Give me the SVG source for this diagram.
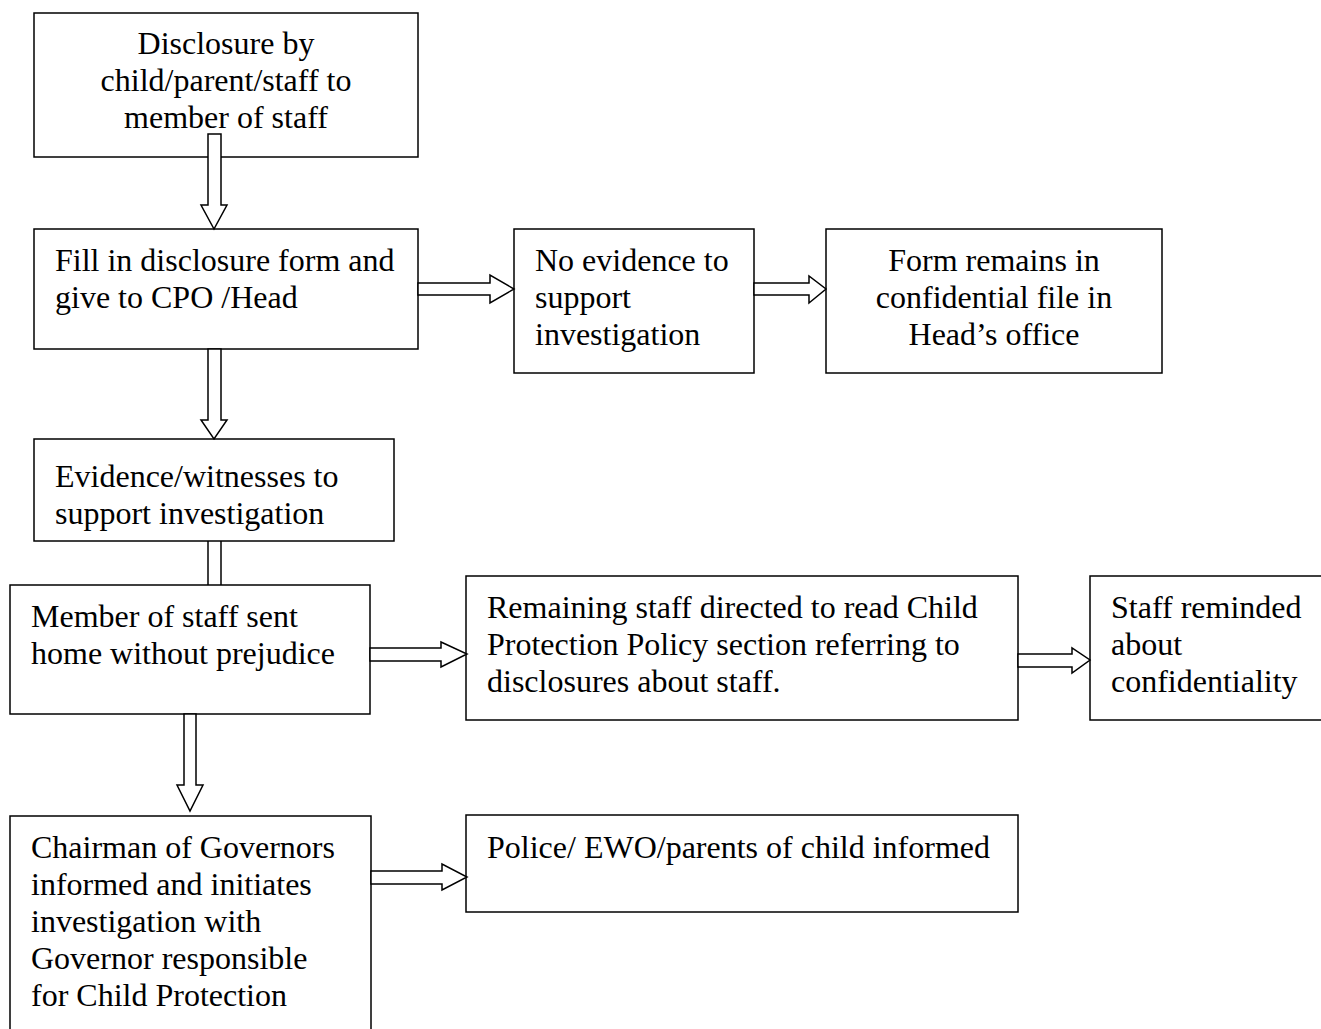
<svg xmlns="http://www.w3.org/2000/svg" width="1321" height="1029" viewBox="0 0 1321 1029">
<style>
.box{fill:#fff;stroke:#000;stroke-width:1.5}
.arr{fill:#fff;stroke:#000;stroke-width:1.5;stroke-linejoin:miter}
.t{font-family:"Liberation Serif","Times New Roman",serif;font-size:32px;fill:#000}
.c{text-anchor:middle}
</style>
<rect width="1321" height="1029" fill="#fff"/>
<g id="n1"><rect class="box" x="34" y="13" width="384" height="144"/>
<text class="t c" x="226" y="54">Disclosure by</text>
<text class="t c" x="226" y="91">child/parent/staff to</text>
<text class="t c" x="226" y="128">member of staff</text></g>
<g id="n2"><rect class="box" x="34" y="229" width="384" height="120"/>
<text class="t" x="55" y="271">Fill in disclosure form and</text>
<text class="t" x="55" y="308">give to CPO /Head</text></g>
<g id="n3"><rect class="box" x="514" y="229" width="240" height="144"/>
<text class="t" x="535" y="271">No evidence to</text>
<text class="t" x="535" y="308">support</text>
<text class="t" x="535" y="345">investigation</text></g>
<g id="n4"><rect class="box" x="826" y="229" width="336" height="144"/>
<text class="t c" x="994" y="271">Form remains in</text>
<text class="t c" x="994" y="308">confidential file in</text>
<text class="t c" x="994" y="345">Head’s office</text></g>
<g id="n5"><rect class="box" x="34" y="439" width="360" height="102"/>
<text class="t" x="55" y="487">Evidence/witnesses to</text>
<text class="t" x="55" y="524">support investigation</text></g>
<g id="n6"><rect class="box" x="10" y="585" width="360" height="129"/>
<text class="t" x="31" y="627">Member of staff sent</text>
<text class="t" x="31" y="664">home without prejudice</text></g>
<g id="n7"><rect class="box" x="466" y="576" width="552" height="144"/>
<text class="t" x="487" y="618">Remaining staff directed to read Child</text>
<text class="t" x="487" y="655">Protection Policy section referring to</text>
<text class="t" x="487" y="692">disclosures about staff.</text></g>
<g id="n8"><rect class="box" x="1090" y="576" width="260" height="144"/>
<text class="t" x="1111" y="618">Staff reminded</text>
<text class="t" x="1111" y="655">about</text>
<text class="t" x="1111" y="692">confidentiality</text></g>
<g id="n9"><rect class="box" x="10" y="816" width="361" height="240"/>
<text class="t" x="31" y="858">Chairman of Governors</text>
<text class="t" x="31" y="895">informed and initiates</text>
<text class="t" x="31" y="932">investigation with</text>
<text class="t" x="31" y="969">Governor responsible</text>
<text class="t" x="31" y="1006">for Child Protection</text></g>
<g id="n10"><rect class="box" x="466" y="815" width="552" height="97"/>
<text class="t" x="487" y="858">Police/ EWO/parents of child informed</text></g>
<g id="connectors">
<polygon class="arr" points="208,134 221,134 221,205 227,205 214,229 201,205 208,205"/>
<polygon class="arr" points="208,349 221,349 221,420 227,420 214,439 201,420 208,420"/>
<line x1="208" y1="541" x2="208" y2="585" stroke="#000" stroke-width="1.5"/>
<line x1="221" y1="541" x2="221" y2="585" stroke="#000" stroke-width="1.5"/>
<polygon class="arr" points="184,714 196,714 196,785 203,785 190,811 177,785 184,785"/>
<polygon class="arr" points="418,283 490,283 490,275 514,289 490,303 490,295 418,295"/>
<polygon class="arr" points="754,283 809,283 809,276 826,289 809,303 809,295 754,295"/>
<polygon class="arr" points="370,648 441,648 441,642 467,654 441,667 441,661 370,661"/>
<polygon class="arr" points="1018,654 1072,654 1072,648 1090,660 1072,673 1072,667 1018,667"/>
<polygon class="arr" points="371,871 442,871 442,864 467,877 442,890 442,884 371,884"/>
</g>
</svg>
